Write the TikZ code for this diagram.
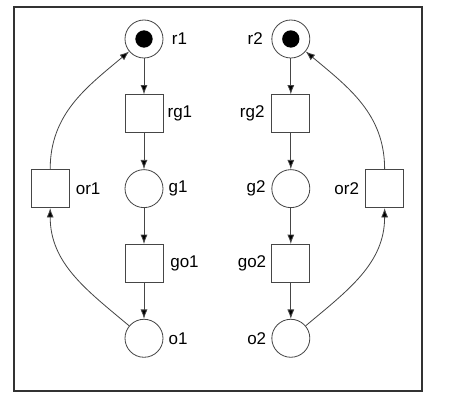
\documentclass[tikz,border=0pt]{standalone}
\usepackage{fontspec}
\setmainfont{Liberation Sans}
\usetikzlibrary{positioning,arrows.meta}
\definecolor{linecolor}{RGB}{70,70,70}
\definecolor{framecolor}{RGB}{50,50,50}

\begin{document}
\begin{tikzpicture}[
    node distance=1.08cm and 3.24cm,
    every node/.style={font=\fontsize{14.5}{16}\selectfont},
    every label/.style={inner sep=0pt},
    place/.style={circle, draw=linecolor, line width=0.7pt, minimum size=1.14cm, inner sep=0pt},
    transition/.style={rectangle, draw=linecolor, line width=0.7pt, minimum size=1.14cm, inner sep=0pt},
    arrow/.style={-{Latex[length=8pt, width=6pt, fill=black]}, linecolor, line width=0.7pt}
]

% picture size and frame
\useasboundingbox (0,0) rectangle (13.59,-12.51);
\draw[framecolor, line width=0.9pt] (0.42,-0.21) rectangle (12.66,-11.73);

% Left cycle
\node[place, label={[label distance=0.25cm]right:r1}] (r1) at (4.32,-1.17) {};
\node[transition, below=of r1, label={[label distance=0.12cm]right:rg1}] (rg1) {};
\node[place, below=of rg1, label={[label distance=0.15cm]right:g1}] (g1) {};
\node[transition, below=of g1, label={[label distance=0.2cm]right:go1}] (go1) {};
\node[place, below=of go1, label={[label distance=0.15cm]right:o1}] (o1) {};
\node[transition, left=1.65cm of g1, label={[label distance=0.18cm]right:or1}] (or1) {};

% Right cycle
\node[place, right=of r1, label={[label distance=0.25cm]left:r2}] (r2) {};
\node[transition, below=of r2, label={[label distance=0.2cm]left:rg2}] (rg2) {};
\node[place, below=of rg2, label={[label distance=0.17cm]left:g2}] (g2) {};
\node[transition, below=of g2, label={[label distance=0.15cm]left:go2}] (go2) {};
\node[place, below=of go2, label={[label distance=0.15cm]left:o2}] (o2) {};
\node[transition, right=1.65cm of g2, label={[label distance=0.18cm]left:or2}] (or2) {};

% Tokens
\fill (r1.center) circle (0.26cm);
\fill (r2.center) circle (0.26cm);

% Arcs
\draw[arrow] (r1) -- (rg1);
\draw[arrow] (rg1) -- (g1);
\draw[arrow] (g1) -- (go1);
\draw[arrow] (go1) -- (o1);
\draw[arrow] (o1) to[out=140, in=270] (or1);
\draw[arrow] (or1) to[out=90, in=220] (r1);

\draw[arrow] (r2) -- (rg2);
\draw[arrow] (rg2) -- (g2);
\draw[arrow] (g2) -- (go2);
\draw[arrow] (go2) -- (o2);
\draw[arrow] (o2) to[out=40, in=270] (or2);
\draw[arrow] (or2) to[out=90, in=-40] (r2);

\end{tikzpicture}
\end{document}
